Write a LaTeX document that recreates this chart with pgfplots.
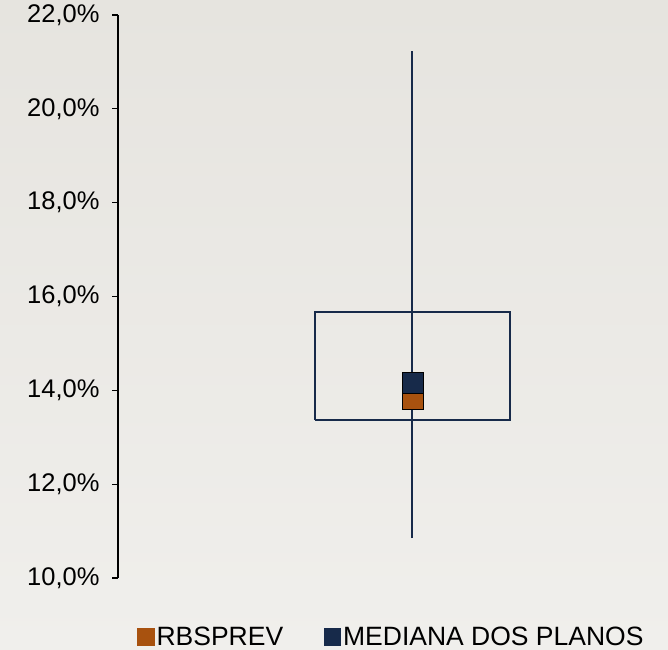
\documentclass[border=0pt]{standalone}
\usepackage{pgfplots}
\pgfplotsset{compat=1.18}
\usepackage{fontspec}
\setmainfont{Liberation Sans}
\definecolor{navy}{HTML}{172A4A}
\definecolor{rbsorange}{HTML}{A8520F}
\definecolor{bgtop}{HTML}{E6E4DF}
\definecolor{bgbot}{HTML}{F0EFEC}

\begin{document}
\begin{tikzpicture}
\shade[top color=bgtop, bottom color=bgbot] (0,0) rectangle (668bp,650bp);
\path[use as bounding box] (0,0) rectangle (668bp,650bp);
\begin{axis}[
  at={(118bp,72bp)}, anchor=south west,
  scale only axis, width=550bp, height=563bp,
  xmin=0, xmax=1, ymin=10, ymax=22,
  clip=false,
  axis x line=none,
  axis y line*=left,
  y axis line style={-, line width=1.6bp, black},
  ytick={10,12,14,16,18,20,22},
  yticklabels={{10,0\%},{12,0\%},{14,0\%},{16,0\%},{18,0\%},{20,0\%},{22,0\%}},
  tick align=outside,
  major tick length=6bp,
  ytick style={line width=1.3bp, black},
  yticklabel style={font=\fontsize{25.5bp}{27bp}\selectfont, xshift=-9bp},
  legend style={at={(0.0345,-0.104)}, anchor=west, draw=none, fill=none,
    inner sep=0pt, font=\fontsize{26.5bp}{28bp}\selectfont,
    /tikz/every even column/.append style={column sep=38bp},
    nodes={inner sep=2.5bp}},
  legend columns=2,
  legend cell align=left,
]
  % whisker and box
  \addplot[navy, line width=2bp, forget plot] coordinates {(0.535,10.85) (0.535,21.23)};
  \addplot[navy, line width=2bp, line join=miter, forget plot] coordinates {
    (0.358,13.36) (0.713,13.36) (0.713,15.67) (0.358,15.67) (0.358,13.36)};
  % RBSPREV
  \addplot[only marks, mark=square*, mark size=10.5bp, mark options={fill=rbsorange, draw=none},
    legend image code/.code={\fill[rbsorange] (0bp,-8.5bp) rectangle (16.5bp,8.5bp);}]
    coordinates {(0.535,13.82)};
  \addlegendentry{RBSPREV}
  % Mediana dos planos
  \addplot[only marks, mark=square*, mark size=10.5bp, mark options={fill=navy, draw=none},
    legend image code/.code={\fill[navy] (0bp,-8.5bp) rectangle (16.5bp,8.5bp);}]
    coordinates {(0.535,14.16)};
  \addlegendentry{MEDIANA DOS PLANOS}
\end{axis}
\end{tikzpicture}
\end{document}
